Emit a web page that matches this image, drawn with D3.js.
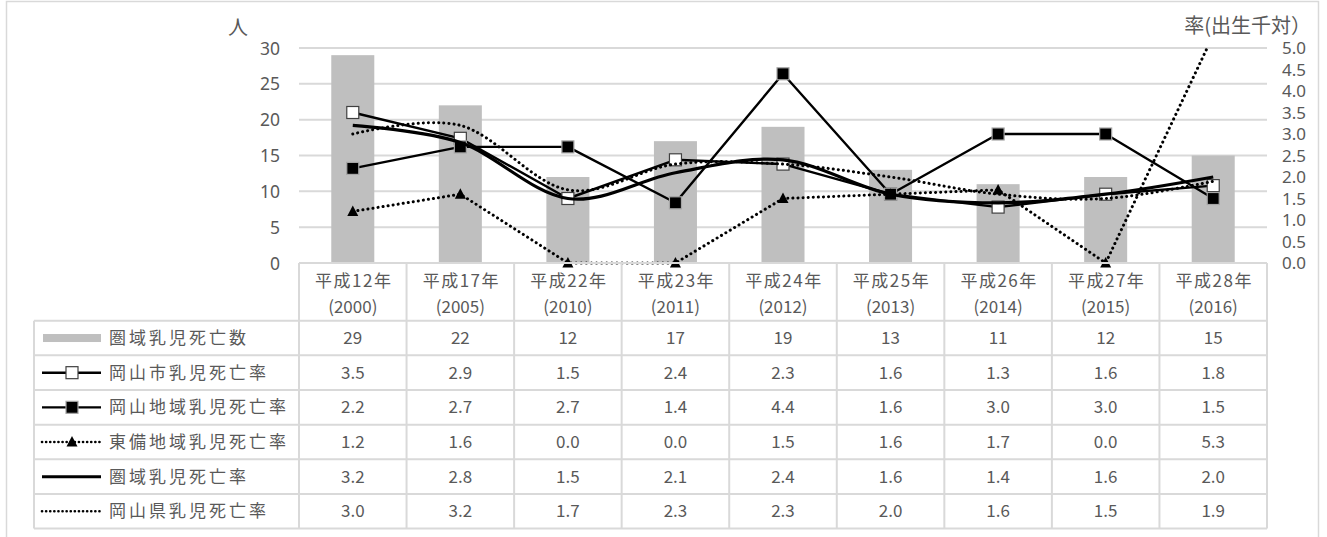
<!DOCTYPE html>
<html>
<head>
<meta charset="utf-8">
<script src="https://cdn.jsdelivr.net/npm/d3@7"></script>
<style>
  html, body { margin: 0; padding: 0; background: #fff; }
  svg text { font-family: "Noto Sans CJK JP", "Noto Sans", sans-serif; fill: #595959; }
</style>
</head>
<body>
<svg id="chart" width="1327" height="537"></svg>
<script>
// Years (two-line category labels)
const catLine1 = ["平成12年", "平成17年", "平成22年", "平成23年", "平成24年", "平成25年", "平成26年", "平成27年", "平成28年"];
const catLine2 = ["(2000)", "(2005)", "(2010)", "(2011)", "(2012)", "(2013)", "(2014)", "(2015)", "(2016)"];

// Infant deaths in the area (persons, left axis)
const areaDeaths = [29, 22, 12, 17, 19, 13, 11, 12, 15];
// Infant mortality rates per 1,000 births (right axis)
const cityRate   = [3.5, 2.9, 1.5, 2.4, 2.3, 1.6, 1.3, 1.6, 1.8];
const okaRegion  = [2.2, 2.7, 2.7, 1.4, 4.4, 1.6, 3.0, 3.0, 1.5];
const tobiRegion = [1.2, 1.6, 0.0, 0.0, 1.5, 1.6, 1.7, 0.0, 5.3];
const areaRate   = [3.2, 2.8, 1.5, 2.1, 2.4, 1.6, 1.4, 1.6, 2.0];
const prefRate   = [3.0, 3.2, 1.7, 2.3, 2.3, 2.0, 1.6, 1.5, 1.9];

const leftTicks  = [0, 5, 10, 15, 20, 25, 30];
const rightTicks = [0, 0.5, 1, 1.5, 2, 2.5, 3, 3.5, 4, 4.5, 5];

const seriesNames = ["圏域乳児死亡数", "岡山市乳児死亡率", "岡山地域乳児死亡率", "東備地域乳児死亡率", "圏域乳児死亡率", "岡山県乳児死亡率"];

const svg = d3.select("#chart");
const grid = "#d9d9d9";

const plot = { left: 299, right: 1267, top: 48, bottom: 263 };
const tableLeft = 34;
const headerBottom = 320.7;
const rowH = 34.65;

const idx = d3.range(catLine1.length);
const x = d3.scaleBand().domain(idx).range([plot.left, plot.right]).paddingInner(0).paddingOuter(0);
const xc = i => x(i) + x.bandwidth() / 2;
const yL = d3.scaleLinear().domain([0, 30]).range([plot.bottom, plot.top]);
const yR = d3.scaleLinear().domain([0, 5]).range([plot.bottom, plot.top]);

// chart frame
svg.append("rect").attr("x", 6.5).attr("y", 1.5).attr("width", 1312).attr("height", 600)
  .attr("fill", "none").attr("stroke", grid).attr("stroke-width", 1.5);

// gridlines
svg.append("g").selectAll("line").data(leftTicks.filter(d => d > 0)).join("line")
  .attr("x1", plot.left).attr("x2", plot.right)
  .attr("y1", d => yL(d)).attr("y2", d => yL(d))
  .attr("stroke", grid).attr("stroke-width", 2);

// left axis
const axL = svg.append("g").attr("transform", `translate(${plot.left - 19},0)`)
  .call(d3.axisLeft(yL).tickValues(leftTicks).tickSize(0).tickPadding(0));
axL.select(".domain").remove();
axL.selectAll("text").attr("font-size", 17.5).attr("dy", "0.35em")
  .style("font-family", "'Noto Sans', sans-serif");

// right axis
const axR = svg.append("g").attr("transform", `translate(${plot.right + 15},0)`)
  .call(d3.axisRight(yR).tickValues(rightTicks).tickFormat(d3.format(".1f")).tickSize(0).tickPadding(0));
axR.select(".domain").remove();
axR.selectAll("text").attr("font-size", 17).attr("dy", "0.35em")
  .style("font-family", "'Noto Sans', sans-serif");

svg.append("text").attr("x", 238).attr("y", 35).attr("text-anchor", "middle")
  .attr("font-size", 20).text("人");
svg.append("text").attr("x", 1311).attr("y", 33).attr("text-anchor", "end")
  .attr("font-size", 20).text("率(出生千対）");

// bars
const barW = x.bandwidth() * 0.4;
svg.append("g").selectAll("rect").data(areaDeaths).join("rect")
  .attr("x", (d, i) => xc(i) - barW / 2).attr("width", barW)
  .attr("y", d => yL(d)).attr("height", d => yL(0) - yL(d))
  .attr("fill", "#bfbfbf");

// clip for rate lines
svg.append("clipPath").attr("id", "plotClip").append("rect")
  .attr("x", plot.left).attr("y", plot.top).attr("width", plot.right - plot.left).attr("height", plot.bottom - plot.top + 10);

const straight = d3.line().x((d, i) => xc(i)).y(d => yR(d));
const smooth = d3.line().x((d, i) => xc(i)).y(d => yR(d)).curve(d3.curveCardinal.tension(0));

const lineGroup = svg.append("g").attr("clip-path", "url(#plotClip)");

const styles = [
  { data: cityRate,   gen: straight, w: 2.4, dash: null, marker: "open" },
  { data: okaRegion,  gen: straight, w: 2.4, dash: null, marker: "filled" },
  { data: tobiRegion, gen: straight, w: 3,   dash: "0.1 5", marker: "tri" },
  { data: areaRate,   gen: smooth,   w: 3.2, dash: null, marker: null },
  { data: prefRate,   gen: smooth,   w: 3,   dash: "0.1 5", marker: null }
];

function drawMarker(g, type, cx, cy) {
  if (type === "open") {
    g.append("rect").attr("x", cx - 6).attr("y", cy - 6).attr("width", 12).attr("height", 12)
      .attr("fill", "#fff").attr("stroke", "#404040").attr("stroke-width", 1.2);
  } else if (type === "filled") {
    g.append("rect").attr("x", cx - 6).attr("y", cy - 6).attr("width", 12).attr("height", 12)
      .attr("fill", "#000").attr("stroke", "#a6a6a6").attr("stroke-width", 1.2);
  } else if (type === "tri") {
    g.append("path").attr("d", `M${cx},${cy - 6}L${cx + 5.5},${cy + 4.5}L${cx - 5.5},${cy + 4.5}Z`)
      .attr("fill", "#000");
  }
}

styles.forEach(s => {
  const p = lineGroup.append("path").attr("d", s.gen(s.data))
    .attr("fill", "none").attr("stroke", "#000").attr("stroke-width", s.w)
    .attr("stroke-linejoin", "round");
  if (s.dash) p.attr("stroke-dasharray", s.dash).attr("stroke-linecap", "round");
  if (s.marker) {
    const mg = lineGroup.append("g");
    s.data.forEach((d, i) => { if (d <= 5) drawMarker(mg, s.marker, xc(i), yR(d)); });
  }
});

// data table
const table = svg.append("g");
const rowTop = r => headerBottom + r * rowH;
const tableBottom = rowTop(seriesNames.length);

// horizontal rules
table.append("line").attr("x1", plot.left).attr("x2", plot.right).attr("y1", plot.bottom).attr("y2", plot.bottom)
  .attr("stroke", grid).attr("stroke-width", 2);
d3.range(seriesNames.length + 1).forEach(r => {
  table.append("line").attr("x1", tableLeft).attr("x2", plot.right)
    .attr("y1", rowTop(r)).attr("y2", rowTop(r)).attr("stroke", grid).attr("stroke-width", 2);
});
// vertical rules
table.append("line").attr("x1", tableLeft).attr("x2", tableLeft).attr("y1", headerBottom).attr("y2", tableBottom)
  .attr("stroke", grid).attr("stroke-width", 2);
d3.range(catLine1.length + 1).forEach(i => {
  const xx = i < catLine1.length ? x(i) : plot.right;
  table.append("line").attr("x1", xx).attr("x2", xx).attr("y1", plot.bottom).attr("y2", tableBottom)
    .attr("stroke", grid).attr("stroke-width", 2);
});

// header labels
idx.forEach(i => {
  table.append("text").attr("x", xc(i) + 1).attr("y", 281).attr("dy", "0.35em").attr("text-anchor", "middle")
    .attr("font-size", 17).attr("letter-spacing", 1.5).text(catLine1[i]);
  table.append("text").attr("x", xc(i)).attr("y", 307).attr("dy", "0.35em").attr("text-anchor", "middle")
    .attr("font-size", 17).text(catLine2[i]);
});

// row values
const rowData = [areaDeaths, cityRate, okaRegion, tobiRegion, areaRate, prefRate];
const fmt = [d3.format("d"), d3.format(".1f"), d3.format(".1f"), d3.format(".1f"), d3.format(".1f"), d3.format(".1f")];
rowData.forEach((arr, r) => {
  const cy = rowTop(r) + rowH / 2;
  arr.forEach((v, i) => {
    table.append("text").attr("x", xc(i)).attr("y", cy).attr("dy", "0.35em").attr("text-anchor", "middle")
      .attr("font-size", 17).text(fmt[r](v));
  });
  table.append("text").attr("x", 109).attr("y", cy).attr("dy", "0.35em")
    .attr("font-size", 17).attr("letter-spacing", 3).text(seriesNames[r]);
});

// legend keys inside the table
const kx1 = 42, kx2 = 101, kmid = 72;
const keyY = r => rowTop(r) + rowH / 2;
table.append("rect").attr("x", kx1 + 1).attr("y", keyY(0) - 4).attr("width", kx2 - kx1 - 1).attr("height", 8).attr("fill", "#bfbfbf");
[1, 2].forEach(r => {
  table.append("line").attr("x1", kx1).attr("x2", kx2).attr("y1", keyY(r)).attr("y2", keyY(r))
    .attr("stroke", "#000").attr("stroke-width", 2.4);
});
drawMarker(table, "open", kmid, keyY(1));
drawMarker(table, "filled", kmid, keyY(2));
table.append("line").attr("x1", kx1).attr("x2", kx2).attr("y1", keyY(3)).attr("y2", keyY(3))
  .attr("stroke", "#000").attr("stroke-width", 2.6).attr("stroke-dasharray", "0.1 4").attr("stroke-linecap", "round");
drawMarker(table, "tri", kmid, keyY(3));
table.append("line").attr("x1", kx1).attr("x2", kx2).attr("y1", keyY(4)).attr("y2", keyY(4))
  .attr("stroke", "#000").attr("stroke-width", 3);
table.append("line").attr("x1", kx1).attr("x2", kx2).attr("y1", keyY(5)).attr("y2", keyY(5))
  .attr("stroke", "#000").attr("stroke-width", 2.6).attr("stroke-dasharray", "0.1 4").attr("stroke-linecap", "round");
</script>
</body>
</html>
